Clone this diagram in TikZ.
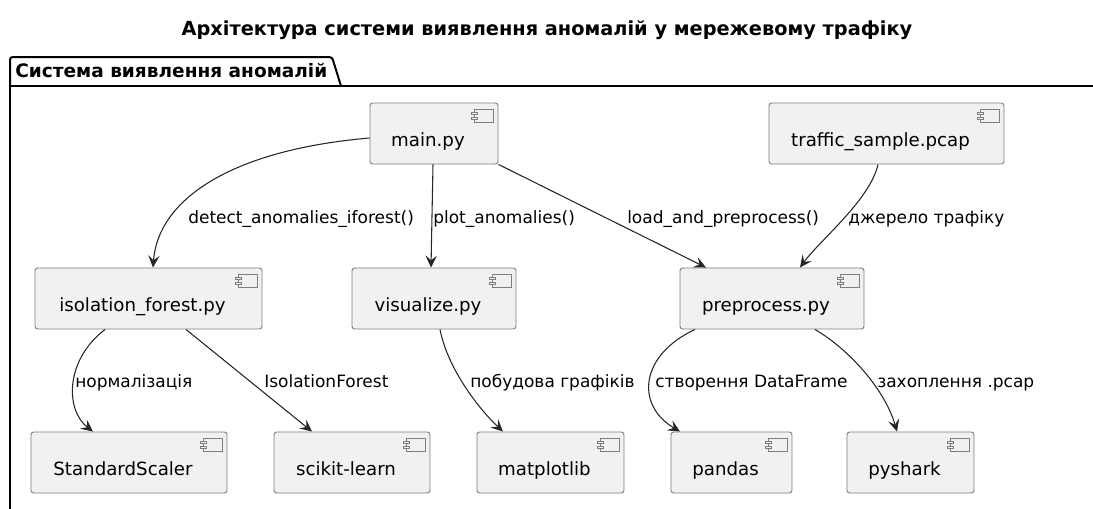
\documentclass[tikz,border=0pt]{standalone}
\usepackage{fontspec}
\setmainfont{DejaVu Sans}
\usetikzlibrary{arrows.meta,calc}
\definecolor{compfill}{HTML}{F1F1F1}
\definecolor{compline}{HTML}{7E7E7E}
\tikzset{compicon/.pic={
 \draw[draw=compline,line width=0.6pt,fill=compfill] (-24,7) rectangle (-5,19.5);
 \foreach \dy in {9.5,14.7} \draw[draw=compline,line width=0.6pt,fill=compfill] (-26.6,\dy) rectangle (-21.4,\dy+2.6);}}
\begin{document}
\begin{tikzpicture}[x=0.75pt,y=-0.75pt,>={Stealth[length=9pt,width=8.5pt,inset=3.6pt]},
 comp/.style={draw=compline,line width=0.7pt,fill=compfill,rounded corners=2pt,minimum height=45.75pt,inner sep=0pt,
  text height=22.5pt,text depth=3.75pt,font=\fontsize{13.65}{16}\selectfont,execute at end node={\hspace{9pt}}},
 lbl/.style={anchor=base west,inner sep=0pt,font=\fontsize{12.75}{15}\selectfont},
 dep/.style={->,line width=0.8pt,draw=black!85},
 frame/.style={line width=1.5pt}]
\useasboundingbox (0,0) rectangle (1093,508);
\node[font=\bfseries\fontsize{14.5}{17}\selectfont] (title) at (547,30) {Архітектура системи виявлення аномалій у мережевому трафіку};
\draw[frame] (10,520) -- (10,86) -- (1100,86);
\draw[frame,rounded corners=2pt] (10,86) -- (10,57) -- (332,57) -- (341,86);
\node[anchor=base west,inner sep=0pt,font=\bfseries\fontsize{13.9}{16}\selectfont] (pkg) at (15,77) {Система виявлення аномалій};
\node[comp,minimum width=96pt] (main) at (434,133.5) {main.py};
\node[comp,minimum width=176.25pt] (traffic) at (886.5,133.5) {traffic\_sample.pcap};
\node[comp,minimum width=170.25pt] (iso) at (148.5,298.5) {isolation\_forest.py};
\node[comp,minimum width=123pt] (vis) at (434,298.5) {visualize.py};
\node[comp,minimum width=138pt] (pre) at (772,298.5) {preprocess.py};
\node[comp,minimum width=147pt] (ss) at (129,462.5) {StandardScaler};
\node[comp,minimum width=117pt] (sk) at (352,462.5) {scikit-learn};
\node[comp,minimum width=110.25pt] (mpl) at (550.5,462.5) {matplotlib};
\node[comp,minimum width=90.75pt] (pd) at (731.5,462.5) {pandas};
\node[comp,minimum width=95.25pt] (ps) at (910.5,462.5) {pyshark};
\foreach \n in {main,traffic,iso,vis,pre,ss,sk,mpl,pd,ps} \pic at (\n.north east) {compicon};
\draw[dep] ($(main.west)+(0,4.5)$) .. controls (230,150) and (158,200) .. ($(iso.north)+(4.5,0)$);
\draw[dep] ($(main.south)+(-1,0)$) -- ($(vis.north)+(-3,0)$);
\draw[dep] (main.south east) -- ($(pre.north)+(-66,0)$);
\draw[dep] ($(traffic.south)+(-8.5,0)$) .. controls (870,200) and (820,240) .. ($(pre.north)+(28,0)$);
\draw[dep] ($(iso.south)+(-43.5,0)$) .. controls (65,360) and (65,410) .. ($(ss.north)+(-36,0)$);
\draw[dep] ($(iso.south)+(37.5,0)$) -- ($(sk.north)+(-40,0)$);
\draw[dep] ($(vis.south)+(6,0)$) .. controls (448,370) and (480,410) .. ($(mpl.north)+(-47.5,0)$);
\draw[dep] ($(pre.south)+(-77,0)$) .. controls (640,355) and (635,405) .. ($(pd.north)+(-51.5,0)$);
\draw[dep] ($(pre.south)+(43,0)$) .. controls (850,350) and (885,390) .. ($(ps.north)+(-13.5,0)$);
\foreach \x/\y/\t [count=\i] in {188/223/detect\_anomalies\_iforest(),433/223/plot\_anomalies(),627/223/load\_and\_preprocess(),
 848/223/джерело трафіку,75/387/нормалізація,264/387/IsolationForest,470/387/побудова графіків,655/387/створення DataFrame,877/387/захоплення .pcap}
 \node[lbl] (l\i) at (\x,\y) {\t};
\end{tikzpicture}
\end{document}
